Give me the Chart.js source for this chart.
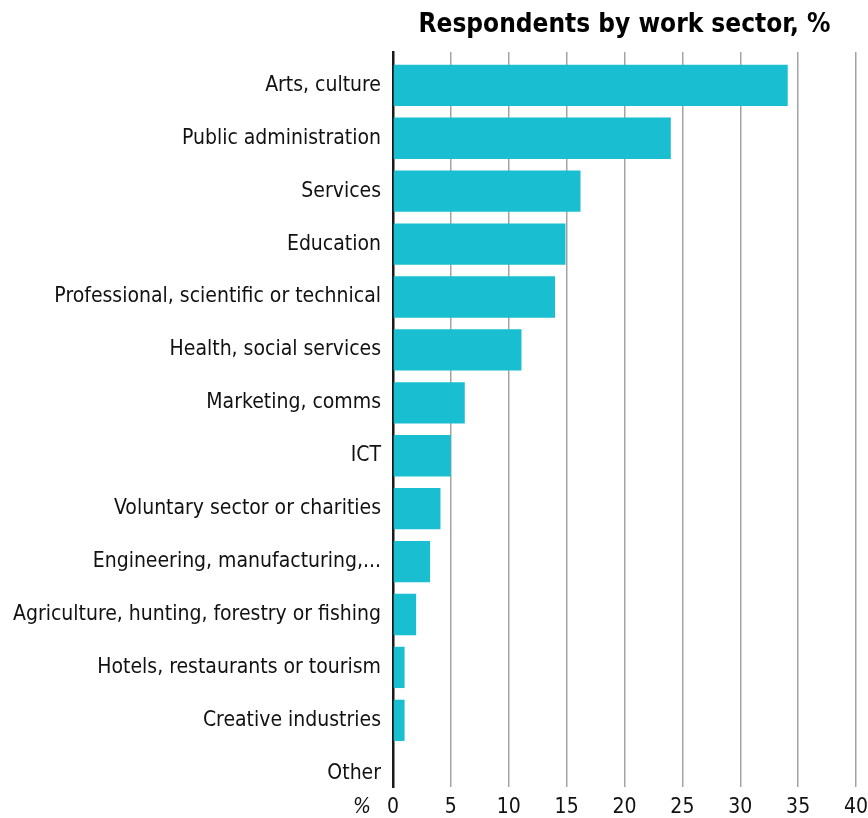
<!DOCTYPE html>
<html>
<head>
<meta charset="utf-8">
<script src="https://cdn.jsdelivr.net/npm/chart.js@4/dist/chart.umd.min.js"></script>
<style>
  html, body { margin: 0; padding: 0; background: #fff; }
  #wrap { width: 868px; height: 818px; position: relative; }
</style>
</head>
<body>
<div id="wrap"><canvas id="c" width="868" height="818"></canvas></div>
<script>
const categories = [
  "Arts, culture",
  "Public administration",
  "Services",
  "Education",
  "Professional, scientific or technical",
  "Health, social services",
  "Marketing, comms",
  "ICT",
  "Voluntary sector or charities",
  "Engineering, manufacturing,...",
  "Agriculture, hunting, forestry or fishing",
  "Hotels, restaurants or tourism",
  "Creative industries",
  "Other"
];
const values = [34.1, 24.0, 16.2, 14.9, 14.0, 11.1, 6.2, 5.0, 4.1, 3.2, 2.0, 1.0, 1.0, 0];
const xTicks = [0, 5, 10, 15, 20, 25, 30, 35, 40];
const titleText = "Respondents by work sector, %";
const unitLabel = "%";

const FONT = "'Liberation Sans Narrow', 'DejaVu Sans Condensed', 'Roboto', sans-serif";

const percentPlugin = {
  id: 'percentLabel',
  afterDraw(chart) {
    const xs = chart.scales.x;
    const ctx = chart.ctx;
    ctx.save();
    ctx.font = "italic 21px " + FONT;
    ctx.fillStyle = '#111';
    ctx.textAlign = 'center';
    ctx.textBaseline = 'middle';
    ctx.fillText(unitLabel, xs.left - 31, xs.top + 10 + 10.5);
    ctx.restore();
  }
};

new Chart(document.getElementById('c'), {
  type: 'bar',
  data: {
    datasets: [{
      data: values.map((v, i) => ({ x: v, y: i })),
      backgroundColor: '#19bed0',
      borderWidth: 0,
      barPercentage: 0.78,
      categoryPercentage: 1
    }]
  },
  options: {
    indexAxis: 'y',
    responsive: false,
    animation: false,
    layout: { padding: { left: 0, right: 0, top: 0, bottom: 0 } },
    plugins: {
      legend: { display: false },
      tooltip: { enabled: false },
      title: {
        display: true,
        text: titleText,
        fullSize: false,
        align: 'center',
        color: '#000',
        font: { family: FONT, size: 26, weight: 'bold', lineHeight: 1.2 },
        padding: { top: 10, bottom: 10.8 }
      }
    },
    scales: {
      x: {
        type: 'linear',
        position: 'bottom',
        min: 0,
        max: 40,
        afterBuildTicks: (s) => { s.ticks = xTicks.map(v => ({ value: v })); },
        afterFit: (s) => { s.height = 31; s.paddingRight = 12; },
        ticks: {
          color: '#111',
          padding: 10,
          font: { family: FONT, size: 21, lineHeight: 1 },
          maxRotation: 0,
          autoSkip: false
        },
        grid: {
          drawTicks: false,
          lineWidth: 1.5,
          color: (c) => (c.tick && c.tick.value === 0) ? 'rgba(0,0,0,0)' : '#a3a3a3'
        },
        border: { display: false }
      },
      y: {
        type: 'linear',
        reverse: true,
        offset: false,
        bounds: 'data',
        min: -0.63,
        max: 13.26,
        afterBuildTicks: (s) => { s.ticks = categories.map((_, i) => ({ value: i })); },
        afterFit: (s) => { s.width = 393; },
        ticks: {
          autoSkip: false,
          color: '#111',
          padding: 12,
          font: { family: FONT, size: 21 },
          callback: (v) => categories[v]
        },
        grid: { display: false, drawTicks: false, offset: false },
        border: { display: true, color: '#1a1a1a', width: 2.5 }
      }
    }
  },
  plugins: [percentPlugin]
});
</script>
</body>
</html>
